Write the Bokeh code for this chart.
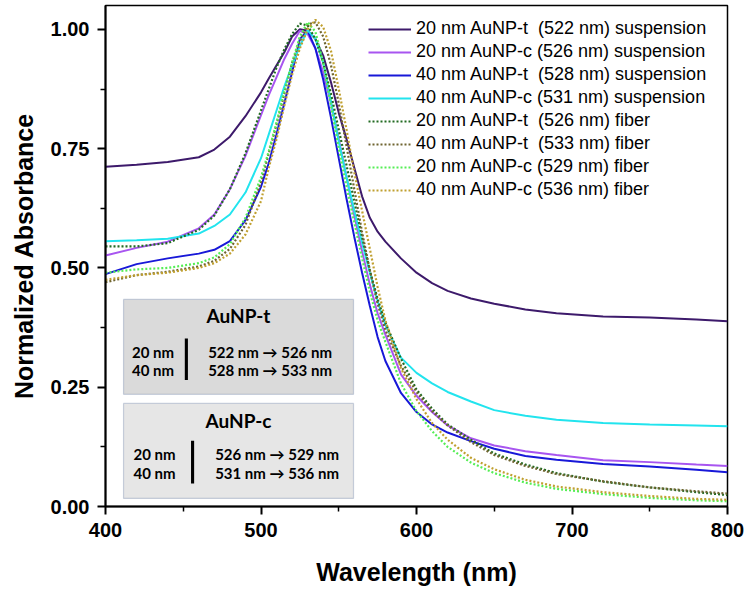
from bokeh.plotting import figure
from bokeh.models import FixedTicker, NumeralTickFormatter, Range1d, BoxAnnotation, Label
from bokeh.embed import file_html
from bokeh.resources import INLINE

# ---------------- data ----------------
wavelength = [400, 420, 440, 460, 470, 480, 490, 500, 505, 510, 515, 520, 525, 530, 535, 540,
              545, 550, 555, 560, 565, 570, 575, 580, 590, 600, 610, 620, 635, 650, 670, 690,
              720, 750, 780, 800]

t20_susp = [0.712, 0.716, 0.722, 0.732, 0.748, 0.775, 0.818, 0.868, 0.897, 0.925, 0.952, 0.985,
            1.000, 0.997, 0.980, 0.945, 0.889, 0.825, 0.770, 0.710, 0.650, 0.605, 0.576, 0.555,
            0.520, 0.490, 0.468, 0.452, 0.436, 0.425, 0.413, 0.405, 0.398, 0.396, 0.392, 0.388]
c20_susp = [0.526, 0.542, 0.555, 0.583, 0.612, 0.665, 0.735, 0.820, 0.862, 0.900, 0.938, 0.970,
            0.997, 0.990, 0.960, 0.910, 0.845, 0.770, 0.690, 0.610, 0.535, 0.465, 0.405, 0.360,
            0.277, 0.232, 0.198, 0.170, 0.143, 0.128, 0.116, 0.108, 0.097, 0.093, 0.088, 0.085]
t40_susp = [0.487, 0.508, 0.520, 0.530, 0.538, 0.556, 0.600, 0.670, 0.720, 0.780, 0.845, 0.910,
            0.980, 0.997, 0.960, 0.895, 0.815, 0.730, 0.645, 0.565, 0.490, 0.420, 0.355, 0.305,
            0.238, 0.198, 0.172, 0.155, 0.137, 0.121, 0.106, 0.098, 0.089, 0.084, 0.077, 0.072]
c40_susp = [0.556, 0.558, 0.561, 0.572, 0.588, 0.612, 0.658, 0.730, 0.780, 0.830, 0.880, 0.925,
            0.965, 0.998, 0.980, 0.930, 0.850, 0.765, 0.690, 0.620, 0.553, 0.490, 0.430, 0.380,
            0.312, 0.280, 0.258, 0.240, 0.220, 0.202, 0.190, 0.182, 0.175, 0.172, 0.170, 0.168]
t20_fiber = [0.545, 0.545, 0.552, 0.580, 0.610, 0.665, 0.740, 0.830, 0.875, 0.920, 0.958, 0.990,
             1.012, 1.008, 0.980, 0.930, 0.865, 0.790, 0.715, 0.640, 0.565, 0.495, 0.435, 0.385,
             0.310, 0.245, 0.205, 0.172, 0.140, 0.111, 0.088, 0.070, 0.052, 0.040, 0.030, 0.024]
t40_fiber = [0.470, 0.485, 0.492, 0.503, 0.515, 0.540, 0.590, 0.680, 0.740, 0.800, 0.865, 0.930,
             0.975, 1.010, 1.015, 0.985, 0.925, 0.845, 0.755, 0.665, 0.575, 0.495, 0.425, 0.370,
             0.295, 0.240, 0.200, 0.170, 0.135, 0.108, 0.085, 0.068, 0.053, 0.040, 0.032, 0.027]
c20_fiber = [0.490, 0.497, 0.500, 0.510, 0.522, 0.550, 0.605, 0.690, 0.745, 0.805, 0.870, 0.930,
             0.985, 1.015, 0.995, 0.930, 0.840, 0.750, 0.670, 0.595, 0.520, 0.450, 0.390, 0.345,
             0.258, 0.200, 0.158, 0.125, 0.092, 0.070, 0.050, 0.037, 0.026, 0.018, 0.013, 0.011]
c40_fiber = [0.475, 0.485, 0.490, 0.500, 0.510, 0.530, 0.570, 0.640, 0.710, 0.770, 0.840, 0.905,
             0.960, 1.000, 1.020, 1.005, 0.955, 0.875, 0.790, 0.700, 0.620, 0.540, 0.460, 0.390,
             0.290, 0.225, 0.175, 0.140, 0.102, 0.078, 0.056, 0.042, 0.030, 0.022, 0.016, 0.014]

series_labels = [
    "20 nm AuNP-t\u00a0 (522 nm) suspension",
    "20 nm AuNP-c (526 nm) suspension",
    "40 nm AuNP-t\u00a0 (528 nm) suspension",
    "40 nm AuNP-c (531 nm) suspension",
    "20 nm AuNP-t\u00a0 (526 nm) fiber",
    "40 nm AuNP-t\u00a0 (533 nm) fiber",
    "20 nm AuNP-c (529 nm) fiber",
    "40 nm AuNP-c (536 nm) fiber",
]
series_values = [t20_susp, c20_susp, t40_susp, c40_susp, t20_fiber, t40_fiber, c20_fiber, c40_fiber]
series_colors = ["#3d1a6b", "#a855f0", "#1818d8", "#22e4ee", "#226b22", "#6f6430", "#55ee55", "#c0a030"]
series_dashed = [False, False, False, False, True, True, True, True]

x_ticks = [400, 500, 600, 700, 800]
x_minor = [450, 550, 650, 750]
y_ticks = [0.0, 0.25, 0.5, 0.75, 1.0]
y_minor = [0.125, 0.375, 0.625, 0.875]

inset_t_lines = ["522 nm \u2192 526 nm", "528 nm \u2192 533 nm"]
inset_c_lines = ["526 nm \u2192 529 nm", "531 nm \u2192 536 nm"]
inset_sizes = ["20 nm", "40 nm"]

# ---------------- figure ----------------
p = figure(width=746, height=594, output_backend="svg", toolbar_location=None,
           x_range=Range1d(400, 800), y_range=Range1d(0, 1.05),
           min_border_left=105, min_border_right=19, min_border_top=5, min_border_bottom=88)
p.grid.visible = False
p.outline_line_color = "black"
p.outline_line_width = 1.5
p.background_fill_color = "white"
p.border_fill_color = "white"

for lab, vals, col, dashed in zip(series_labels, series_values, series_colors, series_dashed):
    if dashed:
        p.line(wavelength, vals, line_color=col, line_width=2.2, line_dash="2 2", legend_label=lab)
    else:
        p.line(wavelength, vals, line_color=col, line_width=2, legend_label=lab)

for ax in (p.xaxis[0], p.yaxis[0]):
    ax.axis_line_width = 2
    ax.axis_line_color = "black"
    ax.major_tick_line_width = 2
    ax.minor_tick_line_width = 1.5
    ax.major_tick_out = 8
    ax.major_tick_in = 0
    ax.minor_tick_out = 5
    ax.minor_tick_in = 0
    ax.major_label_text_font = "Liberation Sans"
    ax.major_label_text_font_style = "bold"
    ax.major_label_text_font_size = "20px"
    ax.major_label_text_color = "black"
    ax.axis_label_text_font = "Liberation Sans"
    ax.axis_label_text_font_style = "bold"
    ax.axis_label_text_font_size = "25px"
    ax.axis_label_text_color = "black"

p.xaxis.ticker = FixedTicker(ticks=x_ticks, minor_ticks=x_minor)
p.yaxis.ticker = FixedTicker(ticks=y_ticks, minor_ticks=y_minor)
p.yaxis.formatter = NumeralTickFormatter(format="0.00")
p.xaxis.axis_label = "Wavelength (nm)"
p.yaxis.axis_label = "Normalized Absorbance"
p.xaxis.major_label_standoff = 8
p.yaxis.major_label_standoff = 8
p.xaxis.axis_label_standoff = 18
p.yaxis.axis_label_standoff = 10

leg = p.legend[0]
leg.location = (263, 306)
leg.border_line_color = None
leg.background_fill_alpha = 0
leg.padding = 0
leg.margin = 0
leg.spacing = 2
leg.glyph_width = 43
leg.glyph_height = 20
leg.label_height = 20
leg.label_standoff = 5
leg.label_text_font = "Liberation Sans"
leg.label_text_font_size = "18px"
leg.label_text_color = "black"

# ---------------- inset boxes ----------------
p.add_layout(BoxAnnotation(left=411.6, right=559.5, bottom=0.235, top=0.434,
                           fill_color="#dadada", fill_alpha=1, line_color="#5b6f9c", line_width=1.2))
p.add_layout(BoxAnnotation(left=411.6, right=559.5, bottom=0.017, top=0.216,
                           fill_color="#e6e6e6", fill_alpha=1, line_color="#5b6f9c", line_width=1.2))
p.add_layout(BoxAnnotation(left=451.0, right=453.0, bottom=0.265, top=0.352,
                           fill_color="black", fill_alpha=1, line_color=None))
p.add_layout(BoxAnnotation(left=455.0, right=457.0, bottom=0.048, top=0.138,
                           fill_color="black", fill_alpha=1, line_color=None))

def lab(x, y, text, size="15px", align="left"):
    p.add_layout(Label(x=x, y=y, text=text, text_font="Lato", text_font_style="bold",
                       text_font_size=size, text_align=align, text_baseline="middle",
                       text_color="black"))

lab(485.5, 0.400, "AuNP-t", "19px", "center")
lab(417.0, 0.323, inset_sizes[0])
lab(417.0, 0.287, inset_sizes[1])
lab(466.0, 0.323, inset_t_lines[0])
lab(466.0, 0.287, inset_t_lines[1])
lab(485.5, 0.180, "AuNP-c", "19px", "center")
lab(418.0, 0.109, inset_sizes[0])
lab(418.0, 0.071, inset_sizes[1])
lab(470.5, 0.109, inset_c_lines[0])
lab(470.5, 0.071, inset_c_lines[1])

open("out.html", "w").write(file_html(p, INLINE))
